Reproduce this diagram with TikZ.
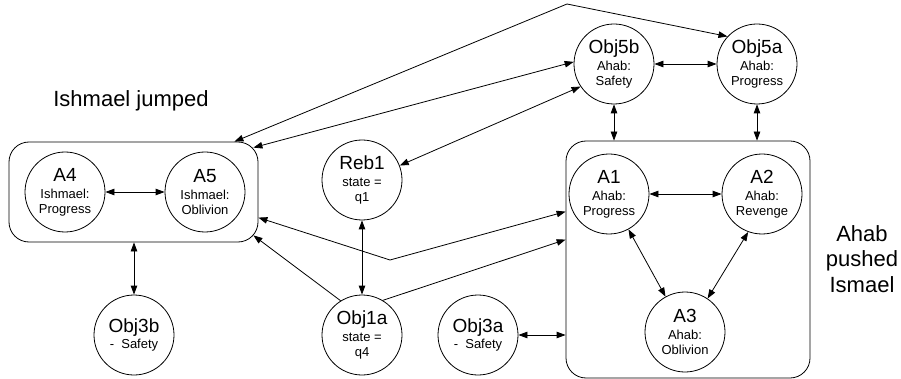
\documentclass[tikz,border=0pt]{standalone}
\usepackage{fontspec}
\setmainfont{Liberation Sans}
\usetikzlibrary{arrows.meta}
\tikzset{
  st/.style={draw, circle, fill=white, minimum size=80pt, inner sep=0pt, line width=0.8pt, align=center, font=\fontsize{13}{15}\selectfont},
  box/.style={draw, rounded corners=20pt, line width=0.8pt, inner sep=0pt},
  conn/.style={line width=0.8pt, {Triangle[length=9pt,width=6.5pt]}-{Triangle[length=9pt,width=6.5pt]}},
  oneway/.style={line width=0.8pt, -{Triangle[length=9pt,width=6.5pt]}},
  lab/.style={font=\fontsize{22}{25.5}\selectfont, align=center, inner sep=0pt}
}
\newcommand\nm[1]{{\fontsize{19}{19}\selectfont #1}}
\begin{document}
\begin{tikzpicture}[x=1pt, y=-1pt]
\useasboundingbox (0,0) rectangle (901,379);
% boxes
\node[box, minimum width=249pt, minimum height=100pt] (lbox) at (133.5,192) {};
\node[box, minimum width=244pt, minimum height=237pt] (rbox) at (688,259.5) {};
% states
\node[st] (a4) at (65,192) {\nm{A4}\\[2pt]Ishmael:\\Progress};
\node[st] (a5) at (205,192) {\nm{A5}\\[2pt]Ishmael:\\Oblivion};
\node[st] (reb1) at (362,180) {\nm{Reb1}\\[2pt]state =\\q1};
\node[st] (obj3b) at (134,335) {\nm{Obj3b}\\[1pt]-\ \ Safety};
\node[st] (obj1a) at (362,335) {\nm{Obj1a}\\[2pt]state =\\q4};
\node[st] (obj3a) at (478,335) {\nm{Obj3a}\\[1pt]-\ \ Safety};
\node[st] (a1) at (609,194) {\nm{A1}\\[2pt]Ahab:\\Progress};
\node[st] (a2) at (762,194) {\nm{A2}\\[2pt]Ahab:\\Revenge};
\node[st] (a3) at (685,332) {\nm{A3}\\[2pt]Ahab:\\Oblivion};
\node[st] (obj5b) at (614,64) {\nm{Obj5b}\\[2pt]Ahab:\\Safety};
\node[st] (obj5a) at (757,64) {\nm{Obj5a}\\[2pt]Ahab:\\Progress};
% labels
\node[lab] (ij) at (131,101) {Ishmael jumped};
\node[lab] (ap) at (862,259) {Ahab\\pushed\\Ismael};
% bend points
\coordinate (bend1) at (567,4);
\coordinate (bend2) at (390,260);
% connectors
\draw[conn] ([xshift=-24pt]lbox.north east) -- (bend1) -- (obj5a.137);
\draw[conn] ([xshift=-5pt,yshift=-6pt]lbox.north east) -- (obj5b.177);
\draw[conn] (obj5b.214) -- (reb1.21);
\draw[conn] (obj5b.south) -- (obj5b.south |- rbox.north);
\draw[conn] (obj5a.south) -- (obj5a.south |- rbox.north);
\draw[conn] (obj5b) -- (obj5a);
\draw[conn] (a4) -- (a5);
\draw[conn] (reb1) -- (obj1a);
\draw[conn] (obj3b.north |- lbox.south) -- (obj3b.north);
\draw[conn] ([yshift=-76pt]lbox.north east) -- (bend2) -- ([yshift=-71pt]rbox.north west);
\draw[oneway] (obj1a.122) -- ([xshift=-5pt,yshift=7pt]lbox.south east);
\draw[oneway] (obj1a.59) -- ([yshift=-99pt]rbox.north west);
\draw[conn] (obj3a) -- (obj3a.east -| rbox.west);
\draw[conn] (a1) -- (a2);
\draw[conn] (a1) -- (a3);
\draw[conn] (a2.250) -- (a3.56);
\end{tikzpicture}
\end{document}
